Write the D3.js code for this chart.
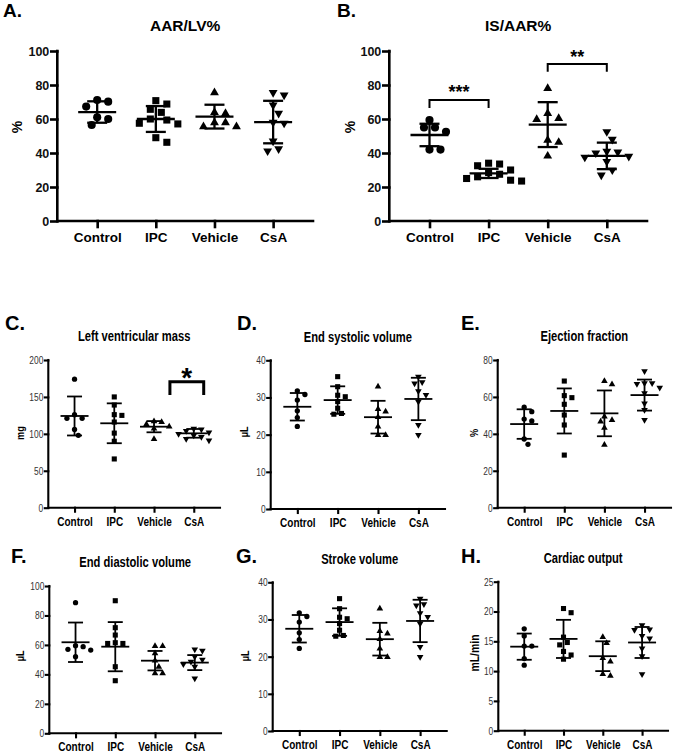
<!DOCTYPE html>
<html><head><meta charset="utf-8">
<script src="https://cdn.jsdelivr.net/npm/d3@7/dist/d3.min.js"></script>
<style>body{margin:0;background:#fff}svg{display:block}</style>
</head><body>
<svg id="c" width="675" height="755"></svg>
<script>
// ---------- DATA ----------
const groups = ["Control", "IPC", "Vehicle", "CsA"];

// A. AAR/LV%
const aarLvPoints = [
  [71.2, 70.2, 67.3, 61, 60, 56.5],
  [70.8, 68.8, 65.7, 63.9, 60, 59.4, 57.5, 57.1, 49, 46.3],
  [75.5, 63.9, 63.3, 57.8, 57.8, 55.5, 55.5],
  [75.5, 74.1, 68.2, 63.3, 58, 57.5, 47, 42.4, 41.2]
];
const aarLvMean = [64.1, 60, 61.4, 58.2];
const aarLvSD = [6.3, 7.6, 7.0, 12.5];

// B. IS/AAR%
const isAarPoints = [
  [59.4, 55, 55, 52.5, 42, 42],
  [34, 33.5, 32.5, 30, 28.5, 27.5, 26, 25, 24, 23.5],
  [78, 63.3, 60.4, 59.8, 47.6, 46.3, 38.2],
  [52.5, 48, 41, 40.5, 40, 38, 37.5, 35, 30, 27]
];
const isAarMean = [50.6, 28, 56.7, 38.3];
const isAarSD = [6.6, 2.7, 13.2, 7.8];

// C. Left ventricular mass (mg)
const lvMassPoints = [
  [174, 126, 121, 121, 106, 98],
  [150, 139, 126, 125, 116, 101, 90, 66],
  [117, 116, 113, 110, 107, 93],
  [107, 106, 104, 102, 100, 98, 96, 93, 91]
];
const lvMassMean = [124.2, 114.3, 109.7, 100.7];
const lvMassSD = [26.4, 27, 7.6, 5.9];

// D. End systolic volume (µL)
const esvPoints = [
  [31.8, 30.8, 29.3, 26.4, 24.6, 22.2],
  [35.6, 32.9, 30.6, 30.2, 28.9, 27.1, 25.7, 25.5],
  [32.9, 26.9, 26.2, 24.7, 22.2, 19.9, 19.9],
  [35.6, 34.1, 33.8, 31.7, 30.7, 28.9, 22.6, 19.9]
];
const esvMean = [27.5, 29.3, 24.7, 29.6];
const esvSD = [3.7, 3.7, 4.4, 5.7];

// E. Ejection fraction (%)
const efPoints = [
  [54.4, 52, 48, 47, 37.2, 34.3],
  [68.6, 60.7, 59.6, 56, 50.2, 44.8, 28.5],
  [68.6, 66.8, 49.3, 47.5, 46.6, 43.3, 34],
  [74, 67.4, 67.4, 67, 65, 62, 56.5, 52.9, 47.5]
];
const efMean = [45.3, 52.4, 51.1, 61];
const efSD = [8, 12.2, 12.4, 8.4];

// F. End diastolic volume (µL)
const edvPoints = [
  [88.7, 59.5, 58.8, 57, 56.5, 52],
  [90, 71.7, 66.7, 61.5, 61, 61, 45.2, 35.7],
  [59.2, 59.2, 54.3, 49.3, 45.2, 40.7, 40.7],
  [57, 56.1, 52, 50, 48.6, 47, 45.2, 37.3]
];
const edvMean = [61.8, 58.8, 49.3, 48];
const edvSD = [13.4, 16.7, 6.6, 5.1];

// G. Stroke volume (µL)
const svPoints = [
  [31.8, 30.8, 29.3, 26.4, 24.6, 22.2],
  [35.6, 32.9, 30.6, 30.2, 28.9, 27.1, 25.7, 25.5],
  [32.9, 26.9, 26.2, 24.7, 22.2, 19.9, 19.9],
  [35.6, 34.1, 33.8, 31.7, 30.7, 28.9, 22.6, 19.9]
];
const svMean = [27.5, 29.3, 24.7, 29.6];
const svSD = [3.7, 3.7, 4.4, 5.7];

// H. Cardiac output (mL/min)
const coPoints = [
  [17.1, 15.9, 14.2, 14.2, 12.1, 11],
  [20.5, 19.8, 15.7, 14.8, 14.4, 13.3, 12.7, 12],
  [15.7, 14.7, 12.2, 11.6, 9.5, 9.2],
  [17.7, 17, 16.9, 15.9, 15.5, 13.8, 12.5, 9.5]
];
const coMean = [14.1, 15.4, 12.5, 14.8];
const coSD = [2.2, 3.2, 2.5, 2.6];

// significance brackets
const isAarBrackets = [
  {a: "Control", b: "IPC", level: 71.2, drop: 4.8, label: "***"},
  {a: "Vehicle", b: "CsA", level: 92.4, drop: 4.6, label: "**"}
];
const lvMassBrackets = [
  {a: "Vehicle", b: "CsA", level: 170.6, drop: 18, label: "*"}
];

// ---------- LAYOUT ----------
const BIG = {
  font: "'Liberation Sans', Arial, sans-serif", sx: 1,
  axisW: 2.6, tick: 6, tickFs: 12.5, tickW: "bold", tickFill: "#111",
  catFs: 13.5, titleFs: 15.5, letterFs: 19, ylabFs: 14,
  meanHalf: 19, capHalf: 10, errW: 2.3,
  sym: [52, 50, 34, 34], step: 5.5, diam: 9, pad: 0.68, titleGap: 20.3
};
const SMALL = {
  font: "'Liberation Sans', Arial, sans-serif", sx: 0.8,
  axisW: 2.1, tick: 3.5, tickFs: 10.5, tickW: "normal", tickFill: "#333",
  catFs: 12.5, titleFs: 14, letterFs: 20, ylabFs: 11.5,
  meanHalf: 14, capHalf: 7.5, errW: 1.8,
  sym: [22, 26, 19, 19], step: 3.8, diam: 6.2, pad: 0.66, titleGap: 18.5
};

const panels = [
  {st: BIG, letter: "A.", lx: 3, ly: 17, title: "AAR/LV%", ylab: "%", yl: [17, 127],
   x0: 57.3, x1: 313, yTop: 51, yBot: 221, yMax: 100, ticks: [0,20,40,60,80,100],
   pts: aarLvPoints, mean: aarLvMean, sd: aarLvSD},
  {st: BIG, letter: "B.", lx: 337, ly: 17, title: "IS/AAR%", ylab: "%", yl: [350, 127],
   x0: 389.3, x1: 647, yTop: 51, yBot: 221, yMax: 100, ticks: [0,20,40,60,80,100],
   pts: isAarPoints, mean: isAarMean, sd: isAarSD, brackets: isAarBrackets, bw: 2, bfs: 18, boff: [-2, -1], bshift: [0, 0]},
  {st: SMALL, letter: "C.", lx: 5, ly: 330, title: "Left ventricular mass", ylab: "mg", yl: [20, 433],
   x0: 48.3, x1: 220, yTop: 360, yBot: 507.7, yMax: 200, ticks: [0,50,100,150,200],
   pts: lvMassPoints, mean: lvMassMean, sd: lvMassSD, brackets: lvMassBrackets, bw: 3, bfs: 28, boff: [5], bshift: [0.4, 0.25]},
  {st: SMALL, letter: "D.", lx: 237, ly: 330, title: "End systolic volume", ylab: "\u03bcL", yl: [244, 432],
   x0: 270.7, x1: 445, yTop: 360.3, yBot: 509, yMax: 40, ticks: [0,10,20,30,40],
   pts: esvPoints, mean: esvMean, sd: esvSD},
  {st: SMALL, letter: "E.", lx: 461, ly: 330, title: "Ejection fraction", ylab: "%", yl: [474, 433],
   x0: 497.7, x1: 671, yTop: 360, yBot: 507.7, yMax: 80, ticks: [0,20,40,60,80],
   pts: efPoints, mean: efMean, sd: efSD},
  {st: SMALL, letter: "F.", lx: 11, ly: 563, title: "End diastolic volume", ylab: "\u03bcL", yl: [20, 656],
   x0: 49.3, x1: 221, yTop: 586, yBot: 733.3, yMax: 100, ticks: [0,20,40,60,80,100],
   pts: edvPoints, mean: edvMean, sd: edvSD},
  {st: SMALL, letter: "G.", lx: 236, ly: 563, title: "Stroke volume", ylab: "\u03bcL", yl: [245, 656],
   x0: 272.7, x1: 446.7, yTop: 582.3, yBot: 731, yMax: 40, ticks: [0,10,20,30,40],
   pts: svPoints, mean: svMean, sd: svSD},
  {st: SMALL, letter: "H.", lx: 461, ly: 563, title: "Cardiac output", ylab: "mL/min", yl: [474, 653], ylabFs: 13,
   x0: 498.3, x1: 668, yTop: 581.7, yBot: 730.7, yMax: 25, ticks: [0,5,10,15,20,25],
   pts: coPoints, mean: coMean, sd: coSD}
];

const symbols = [d3.symbolCircle, d3.symbolSquare, d3.symbolTriangle, d3.symbolTriangle];
const rotations = [0, 0, 0, 180];

const svg = d3.select("#c");

// horizontally condense text (keeps anchor position)
function condense(sel, sx) {
  if (sx === 1) return;
  sel.each(function () {
    const t = d3.select(this);
    const x = +(t.attr("x") || 0);
    const tr = t.attr("transform") || "";
    t.attr("x", x / sx).attr("transform", (tr ? tr + " " : "") + `scale(${sx},1)`);
  });
}

function swarm(values, y, step, diam) {
  const order = values.map((v, i) => ({v, i, py: y(v)})).sort((a, b) => a.py - b.py);
  const placed = [];
  const cands = [0];
  for (let k = 1; k < 12; k++) { cands.push(k * step, -k * step); }
  order.forEach(p => {
    for (const o of cands) {
      const ok = placed.every(q => (q.o - o) ** 2 + (q.py - p.py) ** 2 >= diam * diam);
      if (ok) { p.o = o; break; }
    }
    if (p.o === undefined) p.o = 0;
    placed.push(p);
  });
  return order;
}

function drawPanel(p) {
  const st = p.st;
  const g = svg.append("g").style("font-family", st.font);
  const x = d3.scalePoint().domain(groups).range([p.x0, p.x1]).padding(st.pad);
  const y = d3.scaleLinear().domain([0, p.yMax]).range([p.yBot, p.yTop]);

  // axes
  const ya = g.append("g").attr("transform", `translate(${p.x0},0)`)
    .call(d3.axisLeft(y).tickValues(p.ticks).tickSize(st.tick).tickSizeOuter(0).tickPadding(st === BIG ? 2 : 1.5));
  const xa = g.append("g").attr("transform", `translate(0,${p.yBot})`)
    .call(d3.axisBottom(x).tickSize(st.tick + (st === BIG ? 0 : 0.5)).tickSizeOuter(0).tickPadding(5));
  [ya, xa].forEach(a => {
    a.attr("font-family", null).attr("font-size", null);
    a.selectAll("path,line").attr("stroke", "#000").attr("stroke-width", st.axisW).attr("stroke-linecap", "square");
  });
  ya.selectAll("text").attr("font-size", st.tickFs).attr("font-weight", st.tickW).attr("fill", st.tickFill);
  xa.selectAll("text").attr("font-size", st.catFs).attr("font-weight", "bold").attr("fill", "#000");
  condense(ya.selectAll("text"), st.sx);
  condense(xa.selectAll("text"), st.sx);
  xa.select("path.domain").attr("d", `M${p.x0},0H${p.x1}`);
  ya.select("path.domain").attr("d", `M0,${p.yBot}V${p.yTop}`);

  // title, letter, y label
  const tt = g.append("text").attr("x", (p.x0 + p.x1) / 2).attr("y", p.yTop - st.titleGap)
    .attr("text-anchor", "middle").attr("font-weight", "bold").attr("font-size", st.titleFs).text(p.title);
  condense(tt, st.sx);
  g.append("text").attr("x", p.lx).attr("y", p.ly)
    .attr("font-weight", "bold").attr("font-size", st.letterFs).text(p.letter);
  const yt = g.append("text").attr("transform", `translate(${p.yl[0]},${p.yl[1]}) rotate(-90)`)
    .attr("text-anchor", "middle").attr("dy", "0.35em").attr("font-weight", "bold")
    .attr("font-size", p.ylabFs || st.ylabFs).text(p.ylab);
  condense(yt, st.sx);

  // points, mean and SD
  groups.forEach((grp, gi) => {
    const cx = x(grp);
    const sw = swarm(p.pts[gi], y, st.step, st.diam);
    g.append("g").selectAll("path").data(sw).join("path")
      .attr("d", d3.symbol().type(symbols[gi]).size(st.sym[gi]))
      .attr("transform", d => `translate(${cx + d.o},${d.py}) rotate(${rotations[gi]})`)
      .attr("fill", "#000");
    const m = p.mean[gi], s = p.sd[gi];
    const eg = g.append("g").attr("stroke", "#000").attr("stroke-width", st.errW).attr("fill", "none");
    eg.append("line").attr("x1", cx - st.meanHalf).attr("x2", cx + st.meanHalf).attr("y1", y(m)).attr("y2", y(m));
    eg.append("line").attr("x1", cx).attr("x2", cx).attr("y1", y(m + s)).attr("y2", y(m - s));
    [m + s, m - s].forEach(v => eg.append("line").attr("x1", cx - st.capHalf).attr("x2", cx + st.capHalf).attr("y1", y(v)).attr("y2", y(v)));
  });

  // brackets
  (p.brackets || []).forEach((b, bi) => {
    const step = x.step();
    const xa1 = x(b.a) + p.bshift[0] * step, xb1 = x(b.b) + p.bshift[1] * step;
    const yl = y(b.level), yd = y(b.level - b.drop);
    g.append("path").attr("d", `M${xa1},${yd}V${yl}H${xb1}V${yd}`)
      .attr("fill", "none").attr("stroke", "#000").attr("stroke-width", p.bw);
    g.append("text").attr("x", (xa1 + xb1) / 2).attr("y", yl + p.boff[bi])
      .attr("text-anchor", "middle").attr("font-weight", "bold").attr("font-size", p.bfs).text(b.label);
  });
}

panels.forEach(drawPanel);
</script>
</body></html>
